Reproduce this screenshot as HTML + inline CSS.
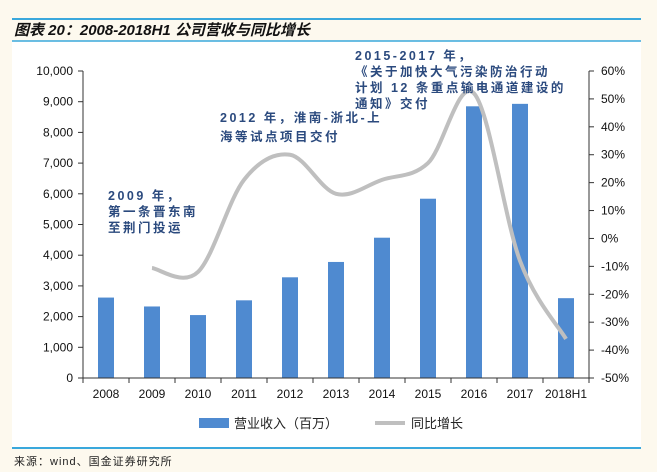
<!DOCTYPE html>
<html><head><meta charset="utf-8"><style>
body{margin:0;width:657px;height:472px;background:#fdf9ee;overflow:hidden;font-family:"Liberation Sans","Noto Sans CJK SC",sans-serif}
svg{position:absolute;left:0;top:0}
</style></head><body>
<svg width="657" height="472">
<rect x="12" y="41" width="629" height="408" fill="#fff"/>
<line x1="12" y1="19" x2="641" y2="19" stroke="#3aa8dc" stroke-width="2"/>
<line x1="12" y1="41" x2="641" y2="41" stroke="#3aa8dc" stroke-width="1.5"/>
<line x1="12" y1="448" x2="641" y2="448" stroke="#3aa8dc" stroke-width="2"/>
<text x="14" y="35" font-size="15" font-weight="bold" font-style="italic" fill="#111">图表 20：2008-2018H1 公司营收与同比增长</text>
<text x="14" y="465" font-size="11" fill="#222" letter-spacing="1">来源：wind、国金证券研究所</text>
<g id="plot"></g>
<g font-size="12.5" font-weight="bold" fill="#2b4a7e" letter-spacing="2.5">
<text x="108" y="200">2009 年，</text><text x="108" y="216">第一条晋东南</text><text x="108" y="232">至荆门投运</text>
<text x="220" y="122">2012 年，淮南-浙北-上</text><text x="220" y="141">海等试点项目交付</text>
<text x="355" y="60">2015-2017 年，</text><text x="355" y="76">《关于加快大气污染防治行动</text><text x="355" y="92">计划 12 条重点输电通道建设的</text><text x="355" y="108">通知》交付</text>
</g>
</svg>
<script>
const categories=["2008","2009","2010","2011","2012","2013","2014","2015","2016","2017","2018H1"];
const revenue=[2620,2330,2050,2530,3280,3780,4570,5840,8850,8930,2600];
const growth=[null,-10.6,-12,21,30,16,21,27,52,-8,-36];
const leftTicks=[0,1000,2000,3000,4000,5000,6000,7000,8000,9000,10000];
const rightTicks=[-50,-40,-30,-20,-10,0,10,20,30,40,50,60];
const NS="http://www.w3.org/2000/svg";
const g=document.getElementById('plot');
const L=83,R=589,T=71,B=378;
const bw=(R-L)/categories.length;
const xc=i=>L+bw*(i+.5);
const yL=v=>B-(v/10000)*(B-T);
const yR=v=>B-((v+50)/110)*(B-T);
function el(t,a,txt){const e=document.createElementNS(NS,t);for(const k in a)e.setAttribute(k,a[k]);if(txt!=null)e.textContent=txt;g.appendChild(e);return e;}
revenue.forEach((v,i)=>{const r=el('rect',{x:xc(i)-8,y:yL(v),width:16,height:B-yL(v),fill:'#4f8ad0'});

});
const pts=[];growth.forEach((v,i)=>{if(v!=null)pts.push([xc(i),yR(v)]);});
let d='M'+pts[0][0]+','+pts[0][1];
for(let i=0;i<pts.length-1;i++){const p0=pts[Math.max(0,i-1)],p1=pts[i],p2=pts[i+1],p3=pts[Math.min(pts.length-1,i+2)];
d+=` C${p1[0]+(p2[0]-p0[0])/6},${p1[1]+(p2[1]-p0[1])/6} ${p2[0]-(p3[0]-p1[0])/6},${p2[1]-(p3[1]-p1[1])/6} ${p2[0]},${p2[1]}`;}
const ln=el('path',{d:d,fill:'none',stroke:'#bfbfbf','stroke-width':4});


el('line',{x1:L,y1:T,x2:L,y2:B,stroke:'#333'});el('line',{x1:R,y1:T,x2:R,y2:B,stroke:'#333'});el('line',{x1:L,y1:B,x2:R,y2:B,stroke:'#333'});
leftTicks.forEach(v=>{el('line',{x1:L-5,y1:yL(v),x2:L,y2:yL(v),stroke:'#333'});
const t=el('text',{x:L-10,y:yL(v)+4,'text-anchor':'end','font-size':12,fill:'#111'},v.toLocaleString('en-US'));

});
rightTicks.forEach(v=>{el('line',{x1:R,y1:yR(v),x2:R+5,y2:yR(v),stroke:'#333'});
const t=el('text',{x:R+12,y:yR(v)+4,'font-size':12,fill:'#111'},v+'%');

});
categories.forEach((c,i)=>{el('line',{x1:L+bw*i,y1:B,x2:L+bw*i,y2:B+5,stroke:'#333'});
const t=el('text',{x:xc(i),y:B+20,'text-anchor':'middle','font-size':12,fill:'#111'},c);

});
el('line',{x1:R,y1:B,x2:R,y2:B+5,stroke:'#333'});
const l1=el('rect',{x:199,y:418,width:30,height:10,fill:'#4f8ad0'});


const l1t=el('text',{x:234,y:428,'font-size':13,fill:'#222'},'营业收入（百万）');


const l2=el('line',{x1:375,y1:423,x2:405,y2:423,stroke:'#bfbfbf','stroke-width':4});


const l2t=el('text',{x:411,y:428,'font-size':13,fill:'#222'},'同比增长');


</script>
</body></html>
